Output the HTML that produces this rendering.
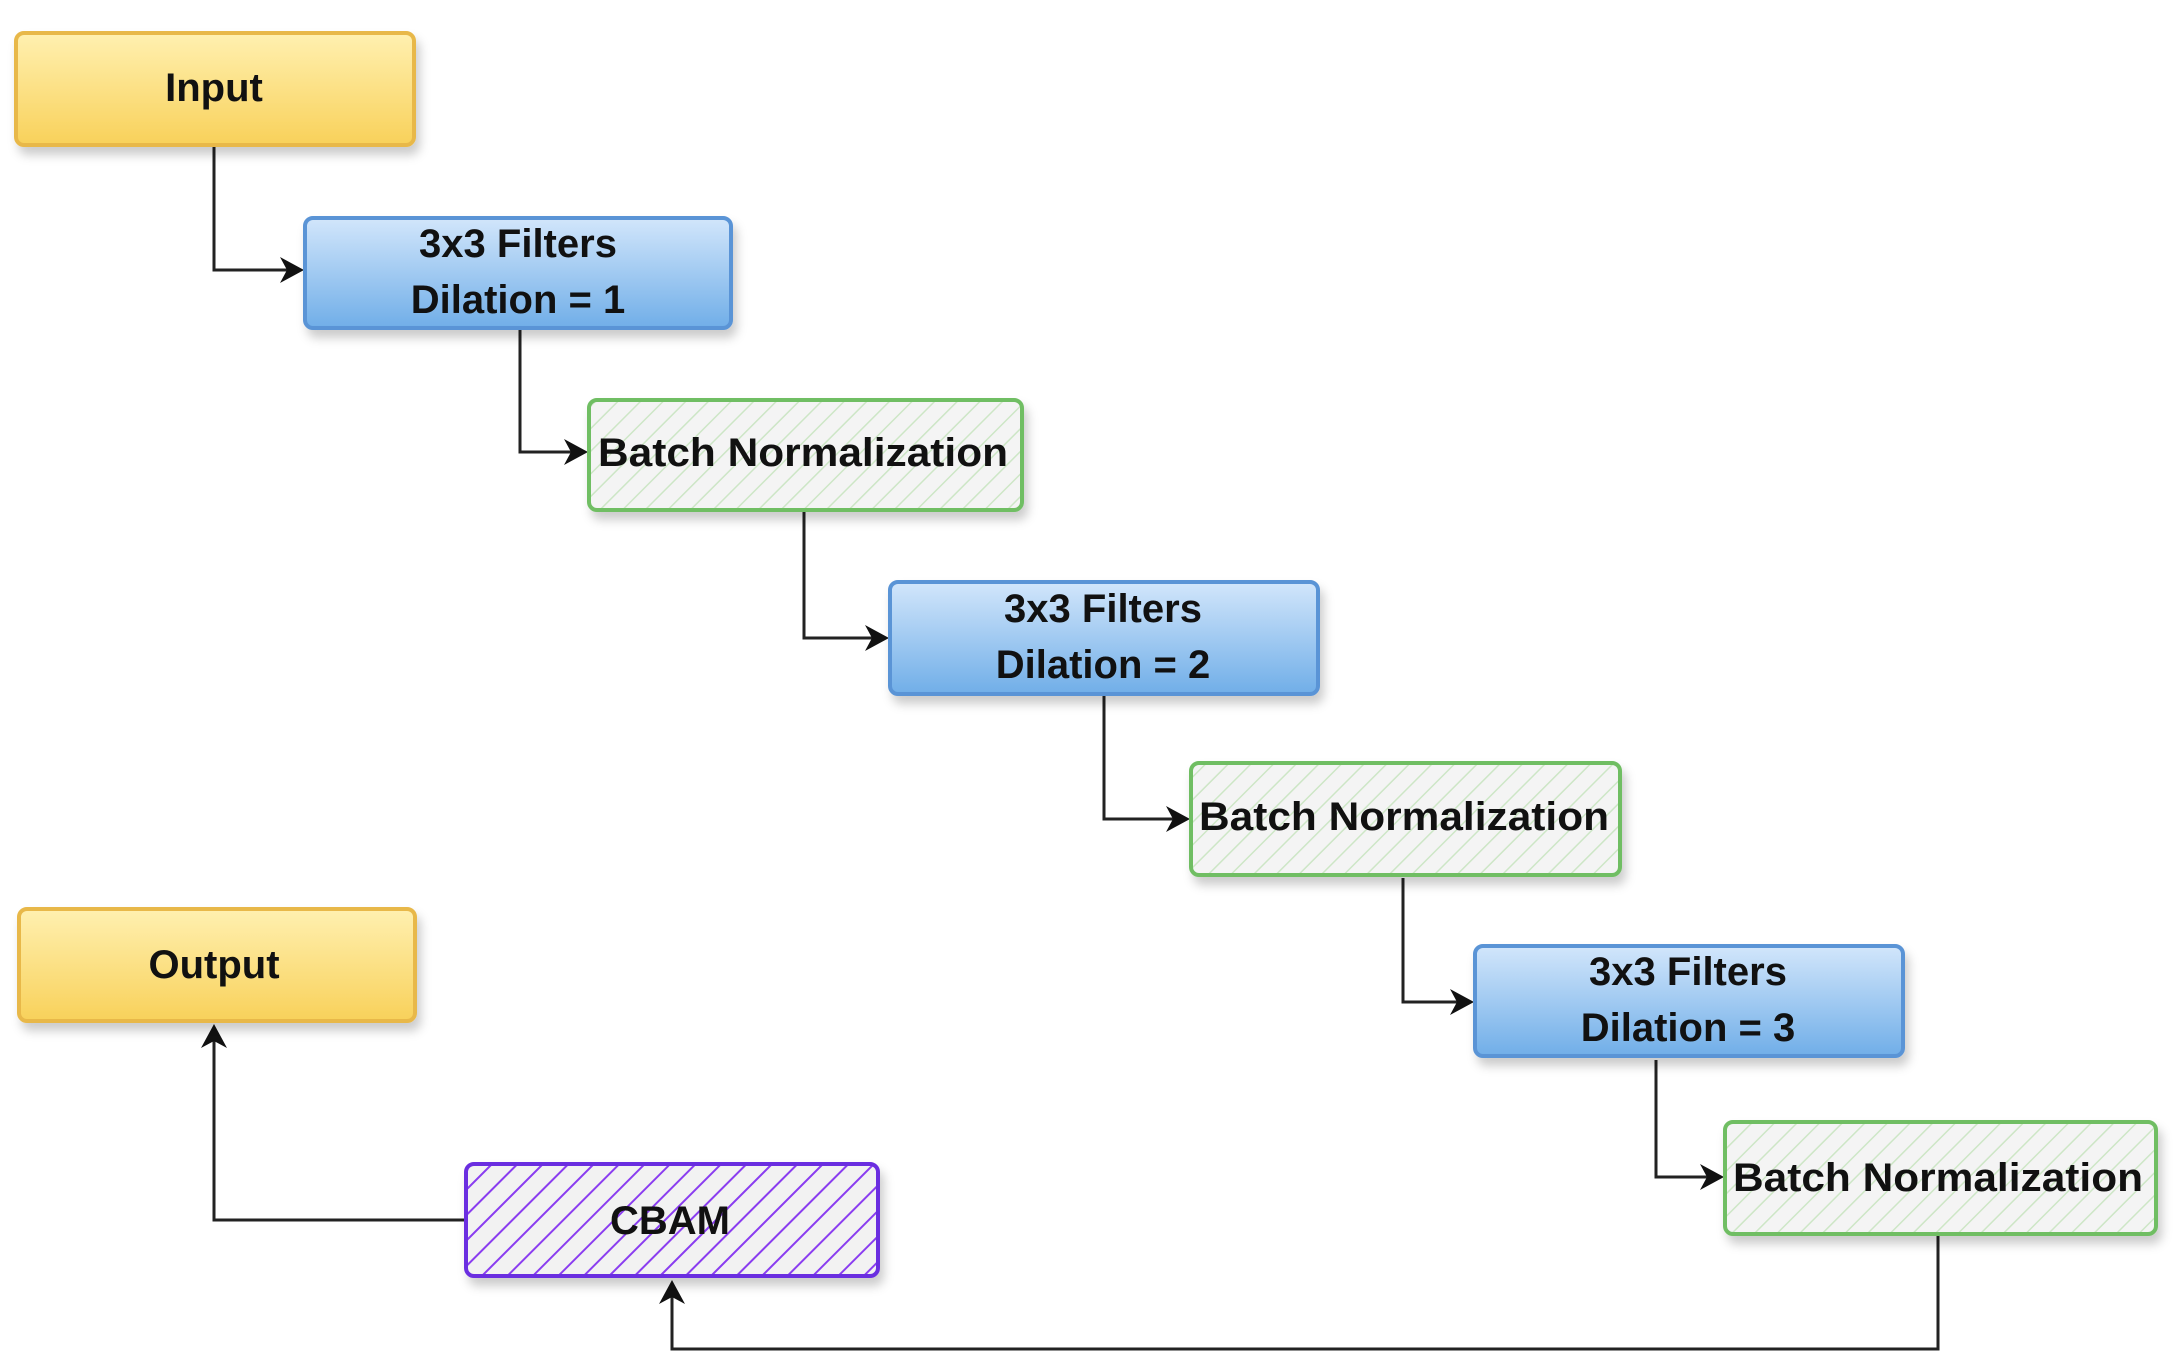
<!DOCTYPE html>
<html><head><meta charset="utf-8"><style>
html,body{margin:0;padding:0;background:#fff;}
svg{display:block;}
text{font-family:"Liberation Sans",sans-serif;font-weight:bold;font-size:40px;fill:#111;}
</style></head><body>
<svg width="2184" height="1365" viewBox="0 0 2184 1365" xmlns="http://www.w3.org/2000/svg">
<defs>
<linearGradient id="gy" x1="0" y1="0" x2="0" y2="1"><stop offset="0" stop-color="#fff0b0"/><stop offset="1" stop-color="#f8d15a"/></linearGradient>
<linearGradient id="gb" x1="0" y1="0" x2="0" y2="1"><stop offset="0" stop-color="#d2e6fb"/><stop offset="1" stop-color="#70aee8"/></linearGradient>
<pattern id="hg" width="16" height="16" patternUnits="userSpaceOnUse" patternTransform="rotate(45)"><rect width="16" height="16" fill="#f4f4f4"/><line x1="0" y1="0" x2="0" y2="16" stroke="#cde6c6" stroke-width="3"/></pattern>
<pattern id="hp" width="18" height="18" patternUnits="userSpaceOnUse" patternTransform="rotate(45)"><rect width="18" height="18" fill="#f2f2f2"/><line x1="0" y1="0" x2="0" y2="18" stroke="#8a3cf0" stroke-width="4"/></pattern>
<filter id="sh" x="-10%" y="-10%" width="130%" height="140%"><feDropShadow dx="4" dy="8" stdDeviation="5" flood-color="#000" flood-opacity="0.2"/></filter>
</defs>
<g fill="none" stroke="#222" stroke-width="3">
<polyline points="214,147 214,270 300,270"/>
<polyline points="520,329 520,452 585,452"/>
<polyline points="804,511 804,638 886,638"/>
<polyline points="1104,696 1104,819 1187,819"/>
<polyline points="1403,878 1403,1002 1471,1002"/>
<polyline points="1656,1060 1656,1177 1721,1177"/>
<polyline points="1938,1236 1938,1349 672,1349 672,1283"/>
<polyline points="465,1220 214,1220 214,1027"/>
</g>
<g fill="#111">
<path d="M304,270 l-24,-13 l7,13 l-7,13z"/>
<path d="M588,452 l-24,-13 l7,13 l-7,13z"/>
<path d="M889,638 l-24,-13 l7,13 l-7,13z"/>
<path d="M1190,819 l-24,-13 l7,13 l-7,13z"/>
<path d="M1474,1002 l-24,-13 l7,13 l-7,13z"/>
<path d="M1724,1177 l-24,-13 l7,13 l-7,13z"/>
<path d="M672,1280 l-13,24 l13,-7 l13,7z"/>
<path d="M214,1024 l-13,24 l13,-7 l13,7z"/>
</g>
<g filter="url(#sh)" stroke-width="4">
<rect x="16" y="33" width="398" height="112" rx="8" fill="url(#gy)" stroke="#e8b84a"/>
<rect x="19" y="909" width="396" height="112" rx="8" fill="url(#gy)" stroke="#e8b84a"/>
<rect x="305" y="218" width="426" height="110" rx="8" fill="url(#gb)" stroke="#5a94d6"/>
<rect x="890" y="582" width="428" height="112" rx="8" fill="url(#gb)" stroke="#5a94d6"/>
<rect x="1475" y="946" width="428" height="110" rx="8" fill="url(#gb)" stroke="#5a94d6"/>
<rect x="589" y="400" width="433" height="110" rx="8" fill="url(#hg)" stroke="#6fbe63"/>
<rect x="1191" y="763" width="429" height="112" rx="8" fill="url(#hg)" stroke="#6fbe63"/>
<rect x="1725" y="1122" width="431" height="112" rx="8" fill="url(#hg)" stroke="#6fbe63"/>
<rect x="466" y="1164" width="412" height="112" rx="8" fill="url(#hp)" stroke="#6a2ee0"/>
</g>
<g text-anchor="middle">
<text x="214" y="101">Input</text>
<text x="214" y="978">Output</text>
<text x="518" y="257">3x3 Filters</text>
<text x="518" y="313">Dilation = 1</text>
<text x="1103" y="622">3x3 Filters</text>
<text x="1103" y="678">Dilation = 2</text>
<text x="1688" y="985">3x3 Filters</text>
<text x="1688" y="1041">Dilation = 3</text>
<text x="803" y="466" textLength="410" lengthAdjust="spacingAndGlyphs">Batch Normalization</text>
<text x="1404" y="830" textLength="410" lengthAdjust="spacingAndGlyphs">Batch Normalization</text>
<text x="1938" y="1191" textLength="410" lengthAdjust="spacingAndGlyphs">Batch Normalization</text>
<text x="670" y="1234">CBAM</text>
</g>
</svg>
</body></html>
